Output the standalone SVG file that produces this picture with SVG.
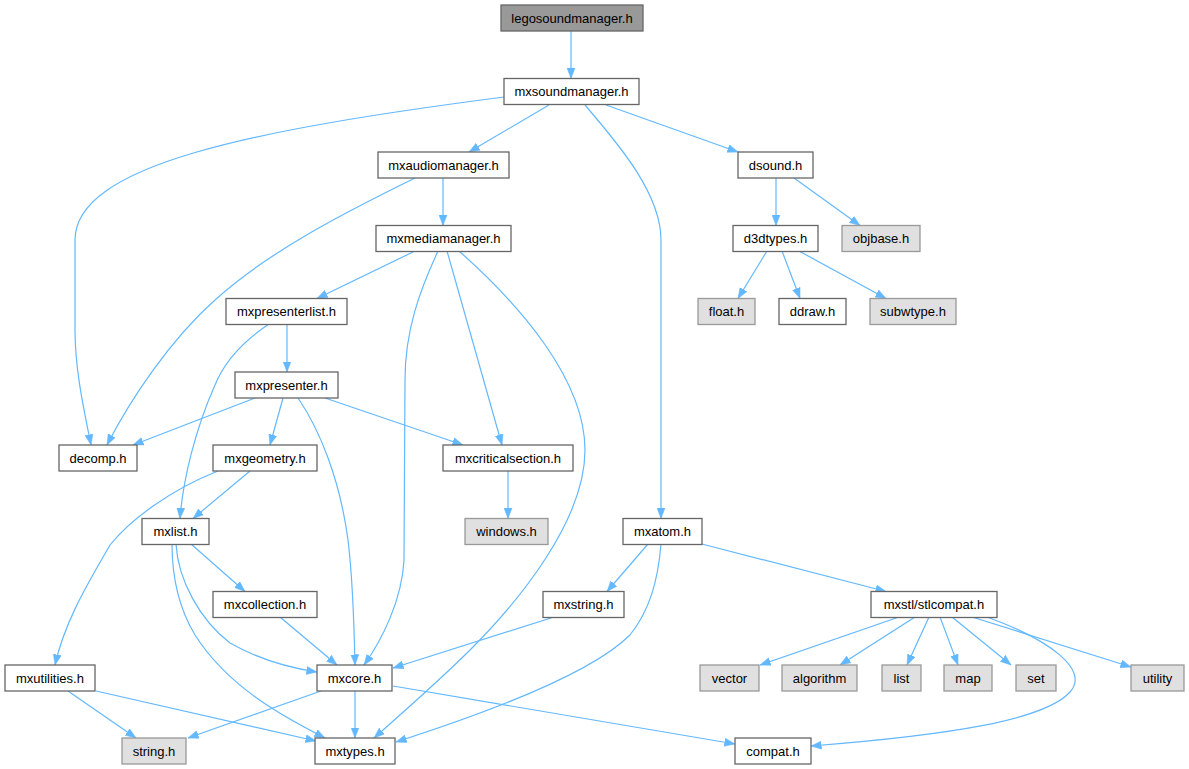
<svg xmlns="http://www.w3.org/2000/svg" width="1189" height="769" viewBox="0 0 1189 769">
<style>
.n rect{fill:#ffffff;stroke:#666666;stroke-width:1.3}
.g rect{fill:#e0e0e0;stroke:#999999;stroke-width:1.3}
.r rect{fill:#999999;stroke:#666666;stroke-width:1.3}
text{font-family:"Liberation Sans",Arial,Helvetica,sans-serif;font-size:13px;fill:#000000;text-anchor:middle}
#edges path{fill:none;stroke:#63b8ff;stroke-width:1.2;marker-end:url(#ah)}
</style>
<defs>
<marker id="ah" markerUnits="userSpaceOnUse" markerWidth="11" markerHeight="9" refX="10.5" refY="4" orient="auto" viewBox="0 0 11 8">
<path d="M0,0 L10.5,4 L0,8 z" fill="#63b8ff" stroke="#63b8ff" stroke-width="0.5"/>
</marker>
</defs>
<rect width="1189" height="769" fill="#ffffff"/>
<g id="edges">
<path d="M571,31 V78.5"/>
<path d="M504,97 C250,130 75,165 75,240 L75,330 C75,370 84,410 91,445"/>
<path d="M549,105 L469,152"/>
<path d="M585,105 C610,135 661,190 661,240 L661,518.5"/>
<path d="M606,105 L738,152"/>
<path d="M415,178 C350,210 270,250 215,300 C170,340 130,400 107,445"/>
<path d="M443,178 V225.5"/>
<path d="M415,251 L317,298.5"/>
<path d="M438,251 C420,290 405,330 405,380 L404,560 C402,600 382,640 364,665"/>
<path d="M447,251 L502,445"/>
<path d="M459,251 C520,305 585,380 585,450 C585,520 520,600 470,650 C440,680 400,715 374,738"/>
<path d="M269,324 C245,340 225,360 215,385 C195,430 183,480 180,518.5"/>
<path d="M287,324 V372"/>
<path d="M255,398 L133,445"/>
<path d="M283,398 L270,445"/>
<path d="M298,398 C320,430 340,480 348,540 C353,580 354,620 355,665"/>
<path d="M325,398 L463,445"/>
<path d="M508,471 V518.5"/>
<path d="M250,471 L193,518.5"/>
<path d="M218,471 C170,490 130,520 110,545 C90,580 65,620 55,665"/>
<path d="M191,544 L245,591.5"/>
<path d="M176,544 C178,580 200,620 230,643 C260,660 290,668 317,672"/>
<path d="M172,544 C172,580 180,610 195,635 C230,690 290,720 325,738"/>
<path d="M280,617 L337,665"/>
<path d="M648,544 L607,591.5"/>
<path d="M661,544 C658,580 650,610 630,635 C590,675 480,715 396,742"/>
<path d="M702,544 L886,591.5"/>
<path d="M554,617 L393,668"/>
<path d="M68,691 L136,738"/>
<path d="M96,691 L316,741"/>
<path d="M321,691 L188,738"/>
<path d="M355,691 V738"/>
<path d="M393,686 L735,744"/>
<path d="M899,617 L760,665"/>
<path d="M915,617 L840,665"/>
<path d="M929,617 L907,665"/>
<path d="M940,617 L958,665"/>
<path d="M952,617 L1011,665"/>
<path d="M972,617 L1131,667"/>
<path d="M987,617 C1050,640 1090,670 1070,692 C1045,720 950,735 811,746"/>
<path d="M776,178 V225.5"/>
<path d="M794,178 L860,225.5"/>
<path d="M767,251 L738,298.5"/>
<path d="M782,251 L800,298.5"/>
<path d="M799,251 L886,298.5"/>
</g>
<g id="legosoundmanager" class="r"><rect x="501" y="5" width="142" height="26"/><text x="572" y="22.5">legosoundmanager.h</text></g>
<g id="mxsoundmanager" class="n"><rect x="504" y="78.5" width="135" height="26"/><text x="571.5" y="96">mxsoundmanager.h</text></g>
<g id="mxaudiomanager" class="n"><rect x="378" y="152" width="131" height="26"/><text x="443.5" y="169.5">mxaudiomanager.h</text></g>
<g id="dsound" class="n"><rect x="738" y="152" width="75" height="26"/><text x="775.5" y="169.5">dsound.h</text></g>
<g id="mxmediamanager" class="n"><rect x="376" y="225.5" width="135" height="26"/><text x="443.5" y="243">mxmediamanager.h</text></g>
<g id="d3dtypes" class="n"><rect x="733" y="225.5" width="85" height="26"/><text x="775.5" y="243">d3dtypes.h</text></g>
<g id="objbase" class="g"><rect x="842" y="225.5" width="78" height="26"/><text x="881" y="243">objbase.h</text></g>
<g id="mxpresenterlist" class="n"><rect x="226" y="298.5" width="121" height="26"/><text x="286.5" y="316">mxpresenterlist.h</text></g>
<g id="float" class="g"><rect x="698" y="298.5" width="57" height="26"/><text x="726.5" y="316">float.h</text></g>
<g id="ddraw" class="n"><rect x="779" y="298.5" width="67" height="26"/><text x="812.5" y="316">ddraw.h</text></g>
<g id="subwtype" class="g"><rect x="870" y="298.5" width="86" height="26"/><text x="913" y="316">subwtype.h</text></g>
<g id="mxpresenter" class="n"><rect x="235" y="372" width="103" height="26"/><text x="286.5" y="389.5">mxpresenter.h</text></g>
<g id="decomp" class="n"><rect x="59" y="445" width="78" height="26"/><text x="98" y="462.5">decomp.h</text></g>
<g id="mxgeometry" class="n"><rect x="213" y="445" width="104" height="26"/><text x="265" y="462.5">mxgeometry.h</text></g>
<g id="mxcriticalsection" class="n"><rect x="443" y="445" width="130" height="26"/><text x="508" y="462.5">mxcriticalsection.h</text></g>
<g id="windows" class="g"><rect x="465" y="518.5" width="83" height="26"/><text x="506.5" y="536">windows.h</text></g>
<g id="mxlist" class="n"><rect x="142" y="518.5" width="67" height="26"/><text x="175.5" y="536">mxlist.h</text></g>
<g id="mxatom" class="n"><rect x="623" y="518.5" width="79" height="26"/><text x="662.5" y="536">mxatom.h</text></g>
<g id="mxstring" class="n"><rect x="543" y="591.5" width="81" height="26"/><text x="583.5" y="609">mxstring.h</text></g>
<g id="stlcompat" class="n"><rect x="871" y="591.5" width="126" height="26"/><text x="934" y="609">mxstl/stlcompat.h</text></g>
<g id="mxcollection" class="n"><rect x="213" y="591.5" width="104" height="26"/><text x="265" y="609">mxcollection.h</text></g>
<g id="mxutilities" class="n"><rect x="5" y="665" width="90" height="26"/><text x="50" y="682.5">mxutilities.h</text></g>
<g id="mxcore" class="n"><rect x="317" y="665" width="75" height="26"/><text x="354.5" y="682.5">mxcore.h</text></g>
<g id="vector" class="g"><rect x="700" y="665" width="59" height="26"/><text x="729.5" y="682.5">vector</text></g>
<g id="algorithm" class="g"><rect x="782" y="665" width="75" height="26"/><text x="819.5" y="682.5">algorithm</text></g>
<g id="list" class="g"><rect x="882" y="665" width="39" height="26"/><text x="901.5" y="682.5">list</text></g>
<g id="map" class="g"><rect x="944" y="665" width="48" height="26"/><text x="968" y="682.5">map</text></g>
<g id="set" class="g"><rect x="1016" y="665" width="40" height="26"/><text x="1036" y="682.5">set</text></g>
<g id="utility" class="g"><rect x="1131" y="665" width="53" height="26"/><text x="1157.5" y="682.5">utility</text></g>
<g id="string" class="g"><rect x="122" y="738" width="64" height="26"/><text x="154" y="755.5">string.h</text></g>
<g id="mxtypes" class="n"><rect x="315" y="738" width="80" height="26"/><text x="355" y="755.5">mxtypes.h</text></g>
<g id="compat" class="n"><rect x="735" y="738" width="76" height="26"/><text x="773" y="755.5">compat.h</text></g>
</svg>
